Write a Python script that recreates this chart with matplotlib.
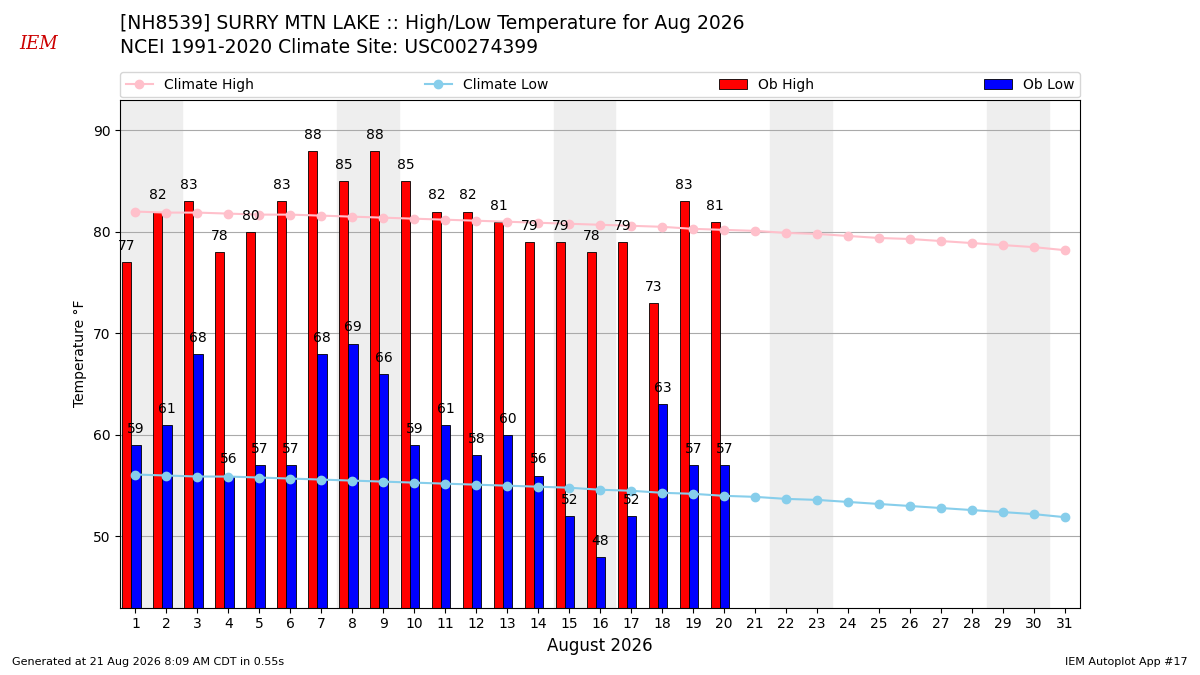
import matplotlib
matplotlib.use("Agg")
import matplotlib.pyplot as plt
import numpy as np

days = np.arange(1, 32)
ob_high = [77, 82, 83, 78, 80, 83, 88, 85, 88, 85, 82, 82, 81, 79, 79, 78, 79, 73, 83, 81]
ob_low = [59, 61, 68, 56, 57, 57, 68, 69, 66, 59, 61, 58, 60, 56, 52, 48, 52, 63, 57, 57]
clim_high = [82.0, 81.9, 81.9, 81.8, 81.7, 81.7, 81.6, 81.5, 81.4, 81.3, 81.2, 81.1, 81.0, 80.9, 80.8, 80.7,
             80.6, 80.5, 80.3, 80.2, 80.1, 79.9, 79.8, 79.6, 79.4, 79.3, 79.1, 78.9, 78.7, 78.5, 78.2]
clim_low = [56.1, 56.0, 55.9, 55.9, 55.8, 55.7, 55.6, 55.5, 55.4, 55.3, 55.2, 55.1, 55.0, 54.9, 54.8, 54.6,
            54.5, 54.3, 54.2, 54.0, 53.9, 53.7, 53.6, 53.4, 53.2, 53.0, 52.8, 52.6, 52.4, 52.2, 51.9]
weekends = [1, 8, 15, 22, 29]

fig = plt.figure(figsize=(12, 6.75), dpi=100)
ax = fig.add_axes([0.1, 0.1, 0.8, 0.752])

for w in weekends:
    ax.axvspan(w - 0.5, w + 1.5, color="#eeeeee", zorder=0)

ax.plot(days, clim_high, color="pink", marker="o", label="Climate High", zorder=3)
ax.plot(days, clim_low, color="skyblue", marker="o", label="Climate Low", zorder=3)

obd = days[:len(ob_high)]
ax.bar(obd - 0.28, ob_high, width=0.3, color="red", edgecolor="black", linewidth=0.6, label="Ob High", zorder=2)
ax.bar(obd + 0.02, ob_low, width=0.3, color="blue", edgecolor="black", linewidth=0.6, label="Ob Low", zorder=2)
for d, h, l in zip(obd, ob_high, ob_low):
    ax.text(d - 0.28, h + 0.9, str(h), ha="center", va="bottom", fontsize=10, zorder=5)
    ax.text(d + 0.02, l + 0.9, str(l), ha="center", va="bottom", fontsize=10, zorder=5)

ax.set_xlim(0.5, 31.5)
ax.set_ylim(43, 93)
ax.set_xticks(days)
ax.grid(axis="y", color="#aaaaaa", zorder=1)
ax.set_axisbelow(True)
ax.set_ylabel("Temperature °F")
ax.set_xlabel("August 2026", fontsize=12)

ax.legend(ncol=4, loc="lower left", bbox_to_anchor=(0, 1.005, 1, 0.05), mode="expand",
          borderaxespad=0, fontsize=10)

fig.text(0.1, 0.965, "[NH8539] SURRY MTN LAKE :: High/Low Temperature for Aug 2026", fontsize=13.5, va="center")
fig.text(0.1, 0.93, "NCEI 1991-2020 Climate Site: USC00274399", fontsize=13.5, va="center")
fig.text(0.01, 0.015, "Generated at 21 Aug 2026 8:09 AM CDT in 0.55s", fontsize=8)
fig.text(0.99, 0.015, "IEM Autoplot App #17", fontsize=8, ha="right")
fig.text(0.032, 0.935, "IEM", fontsize=13, color="#cc0000", style="italic", family="serif", ha="center", va="center")

fig.savefig("out.png")
